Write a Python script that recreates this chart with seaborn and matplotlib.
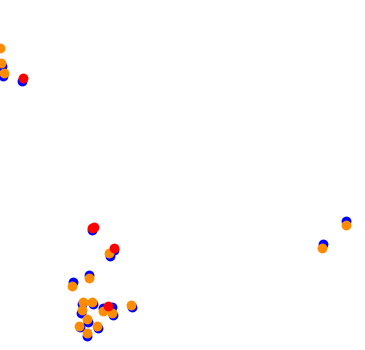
import matplotlib
matplotlib.use("Agg")
import matplotlib.pyplot as plt
import seaborn as sns
import pandas as pd

blue_x = [1.7, 3.3, 22.3, 91.7, 114.3, 110.0, 89.0, 73.3, 81.7, 81.3, 93.3, 103.3, 111.7, 112.7, 131.7, 87.7, 80.0, 97.7, 87.3, 346.0, 322.7]
blue_y = [66.0, 76.0, 80.7, 230.0, 250.0, 255.7, 275.0, 282.3, 304.0, 312.5, 304.0, 308.3, 307.3, 315.0, 307.3, 321.7, 327.3, 328.3, 336.0, 220.7, 244.3]

orange_x = [-0.5, 1.0, 4.0, 89.0, 71.7, 109.3, 83.3, 82.3, 91.7, 103.3, 111.7, 131.0, 86.7, 79.0, 96.7, 86.7, 346.0, 322.0]
orange_y = [48.3, 62.7, 72.7, 278.3, 286.0, 253.3, 301.7, 310.0, 301.7, 310.7, 312.7, 305.0, 319.0, 325.7, 325.7, 333.3, 225.0, 247.7]

red_x = [23.3, 92.2, 93.5, 114.0, 108.3]
red_y = [77.7, 227.8, 226.8, 247.7, 306.0]

series = ["blue", "orange", "red"]
colors = {"blue": "#0000ff", "orange": "#ff8c00", "red": "#ff0000"}

df = pd.concat([
    pd.DataFrame({"x": blue_x, "y": blue_y, "s": "blue"}),
    pd.DataFrame({"x": orange_x, "y": orange_y, "s": "orange"}),
    pd.DataFrame({"x": red_x, "y": red_y, "s": "red"}),
], ignore_index=True)

fig = plt.figure(figsize=(3.65, 3.5), dpi=100)
ax = fig.add_axes([0, 0, 1, 1])
for name in series:
    sub = df[df["s"] == name]
    sns.scatterplot(data=sub, x="x", y="y", color=colors[name], s=50,
                    linewidth=0, ax=ax, legend=False)
ax.set_xlim(0, 365)
ax.set_ylim(350, 0)
ax.axis("off")
fig.savefig("out.png", dpi=100, facecolor="white")
